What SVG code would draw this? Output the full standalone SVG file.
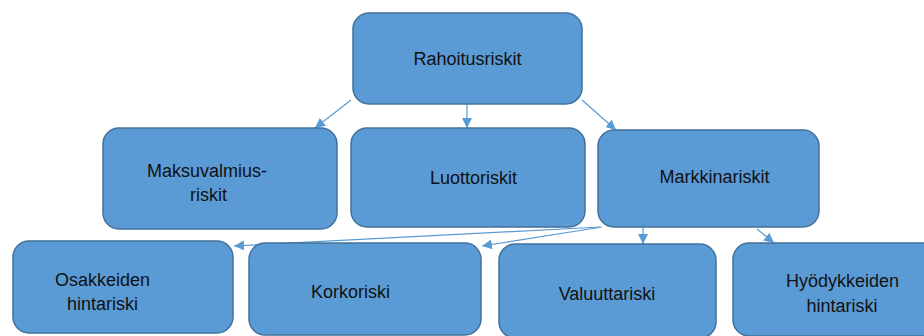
<svg xmlns="http://www.w3.org/2000/svg" width="924" height="336" viewBox="0 0 924 336">
  <defs>
    <style>
      .box { fill: #5B9BD5; stroke: #41719C; stroke-width: 1.5; }
      .lbl { font-family: "Liberation Sans", Arial, sans-serif; font-size: 18px; fill: #111; text-anchor: middle; }
      .edge { stroke: #5B9BD5; stroke-width: 1.2; fill: none; marker-end: url(#arrow); }
    </style>
    <marker id="arrow" viewBox="0 0 10 10" refX="10" refY="5" markerWidth="10" markerHeight="10" markerUnits="userSpaceOnUse" orient="auto">
      <path d="M0,0 L10,5 L0,10 z" fill="#5B9BD5"/>
    </marker>
  </defs>
  <rect width="924" height="336" fill="#FFFFFF"/>

  <g id="connectors">
    <line class="edge" x1="351" y1="100" x2="315" y2="128"/>
    <line class="edge" x1="467" y1="104" x2="467" y2="128"/>
    <line class="edge" x1="582" y1="100" x2="616" y2="130"/>
    <line class="edge" x1="600" y1="227" x2="234" y2="246"/>
    <line class="edge" x1="602" y1="227" x2="482" y2="246"/>
    <line class="edge" x1="643" y1="227" x2="643" y2="244"/>
    <line class="edge" x1="757" y1="229" x2="774" y2="243"/>
  </g>

  <g id="rahoitusriskit">
    <rect class="box" x="353" y="13" width="229" height="91" rx="16"/>
    <text class="lbl" x="467.5" y="65">Rahoitusriskit</text>
  </g>

  <g id="maksuvalmiusriskit">
    <rect class="box" x="103" y="128" width="234" height="101" rx="16"/>
    <text class="lbl" x="207" y="177">Maksuvalmius-</text>
    <text class="lbl" x="208.5" y="201">riskit</text>
  </g>

  <g id="luottoriskit">
    <rect class="box" x="351" y="128" width="234" height="99" rx="16"/>
    <text class="lbl" x="473.5" y="184">Luottoriskit</text>
  </g>

  <g id="markkinariskit">
    <rect class="box" x="598" y="130" width="221" height="97" rx="16"/>
    <text class="lbl" x="714.5" y="183">Markkinariskit</text>
  </g>

  <g id="osakkeiden-hintariski">
    <rect class="box" x="13" y="241" width="220" height="92" rx="16"/>
    <text class="lbl" x="102.5" y="286">Osakkeiden</text>
    <text class="lbl" x="102.5" y="310">hintariski</text>
  </g>

  <g id="korkoriski">
    <rect class="box" x="249" y="243" width="232" height="92" rx="16"/>
    <text class="lbl" x="350.5" y="298">Korkoriski</text>
  </g>

  <g id="valuuttariski">
    <rect class="box" x="499" y="244" width="217" height="94" rx="16"/>
    <text class="lbl" x="607" y="300">Valuuttariski</text>
  </g>

  <g id="hyodykkeiden-hintariski">
    <rect class="box" x="733" y="243" width="210" height="93" rx="16"/>
    <text class="lbl" x="842.5" y="287">Hyödykkeiden</text>
    <text class="lbl" x="842" y="312">hintariski</text>
  </g>
</svg>
